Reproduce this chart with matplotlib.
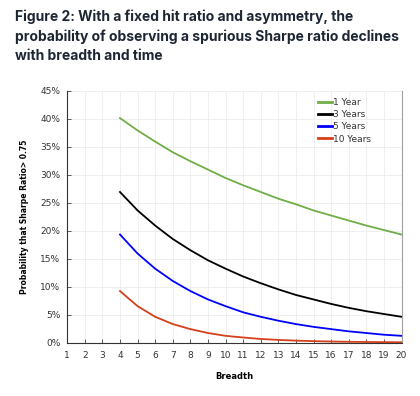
import matplotlib.pyplot as plt

breadth = list(range(4, 21))

# probability (%) of observing Sharpe > 0.75
one_year = [40.1, 37.9, 35.9, 34.0, 32.4, 30.9, 29.4, 28.1, 26.9, 25.7,
            24.7, 23.6, 22.7, 21.8, 20.9, 20.1, 19.3]
three_years = [26.9, 23.6, 20.9, 18.5, 16.5, 14.7, 13.2, 11.8, 10.6, 9.5,
               8.5, 7.7, 6.9, 6.2, 5.6, 5.1, 4.6]
five_years = [19.3, 15.9, 13.2, 11.0, 9.2, 7.7, 6.5, 5.4, 4.6, 3.9,
              3.3, 2.8, 2.4, 2.0, 1.7, 1.4, 1.2]
ten_years = [9.2, 6.5, 4.6, 3.3, 2.4, 1.7, 1.2, 0.9, 0.64, 0.47,
             0.34, 0.25, 0.18, 0.13, 0.10, 0.07, 0.05]

series = [('1 Year', one_year, '#70ad47'),
          ('3 Years', three_years, '#000000'),
          ('5 Years', five_years, '#0000ff'),
          ('10 Years', ten_years, '#d5401c')]

x_ticks = list(range(1, 21))
y_ticks = list(range(0, 50, 5))

fig = plt.figure(figsize=(4.2, 3.96), dpi=100)
fig.text(0.036, 0.977,
         'Figure 2: With a fixed hit ratio and asymmetry, the\n'
         'probability of observing a spurious Sharpe ratio declines\n'
         'with breadth and time',
         ha='left', va='top', fontsize=10.0, fontweight='bold',
         family='Inter', color='#1d2633', linespacing=1.5)

ax = fig.add_axes([0.160, 0.135, 0.796, 0.636])
for name, vals, col in series:
    ax.plot(breadth, vals, color=col, linewidth=1.3, label=name)

ax.set_xlim(1, 20)
ax.set_ylim(0, 45)
ax.set_xticks(x_ticks)
ax.set_yticks(y_ticks)
ax.set_yticklabels(['%d%%' % v for v in y_ticks])
ax.grid(True, color='#ededed', linewidth=0.6)
ax.set_axisbelow(True)
ax.tick_params(axis='both', direction='in', length=3, width=0.6,
               labelsize=6.5, colors='#444444')
ax.tick_params(axis='x', pad=6)
ax.tick_params(axis='y', pad=5)
for lab in ax.get_xticklabels() + ax.get_yticklabels():
    lab.set_color('#333333')

ax.spines['top'].set_visible(False)
ax.spines['right'].set_color('#a0a0a0')
ax.spines['left'].set_color('#333333')
ax.spines['bottom'].set_color('#333333')
ax.spines['left'].set_linewidth(0.8)
ax.spines['bottom'].set_linewidth(0.8)

ax.set_xlabel('Breadth', fontsize=6, fontweight='bold', labelpad=9)
ax.set_ylabel('Probability that Sharpe Ratio> 0.75', fontsize=5.5,
              fontweight='bold', labelpad=8)

leg = ax.legend(loc='upper right', bbox_to_anchor=(0.92, 0.985), frameon=False,
                fontsize=6.5, handlelength=1.6, handletextpad=0.1,
                labelspacing=0.35, borderaxespad=0)
for line in leg.get_lines():
    line.set_linewidth(2.0)
for t in leg.get_texts():
    t.set_color('#333333')

fig.savefig('out.png', dpi=100)
